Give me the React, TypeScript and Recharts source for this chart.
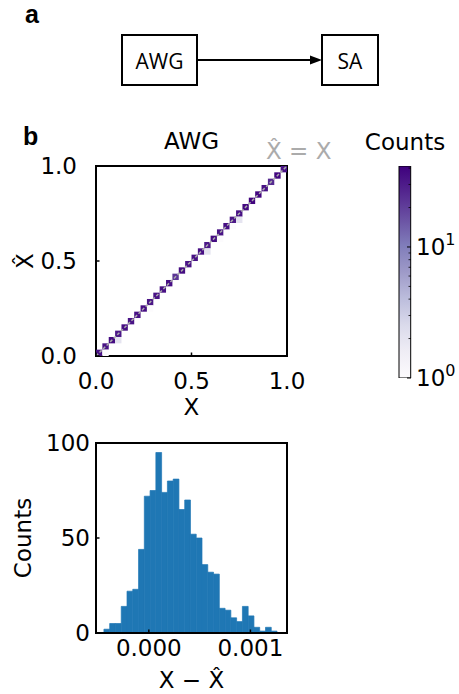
import React from 'react'
import {
  ScatterChart, Scatter, BarChart, Bar,
  XAxis, YAxis, ReferenceArea, Label,
} from 'recharts'

// ---- heatmap (X vs X̂), 30 x 30 bins on [0, 1] ----
const N_BINS = 30
const diagCounts = [34, 33, 36, 31, 35, 33, 34, 35, 32, 33, 34, 35, 22, 36, 33,
  34, 35, 31, 36, 33, 35, 32, 34, 37, 40, 39, 34, 25, 38, 33]
const offCols = [1, 3, 8, 17, 19, 21, 22]
const offRows = [0, 2, 7, 16, 18, 20, 21]
const offCounts = [1, 2, 1, 2, 1, 1, 2]
const heatTicks = [0, 0.5, 1]
const identityLine = [{ x: 0, y: 0 }, { x: 1, y: 1 }]

// ---- colorbar ----
const cbarMax = 41.5
const cbarMajor = [1, 10]
const cbarMinor = [2, 3, 4, 5, 6, 7, 8, 9, 20, 30, 40]

// ---- histogram of X - X̂ ----
const histCounts = [2, 5, 5, 14, 22, 23, 44, 72, 75, 95, 74, 80, 81, 65, 70,
  52, 50, 36, 32, 31, 13, 12, 8, 6, 14, 9, 3, 1, 3, 1]
const histStart = -0.000442
const histBin = 0.0000568
const histDomain = [-0.00052, 0.00136]
const histTicks = [0, 0.001]
const countTicks = [0, 50, 100]

const PURPLES = ['#fcfbfd', '#efedf5', '#dadaeb', '#bcbddc', '#9e9ac8',
  '#807dba', '#6a51a3', '#54278f', '#3f007d']

const hexToRgb = (h: string) => [1, 3, 5].map(i => parseInt(h.slice(i, i + 2), 16))
const purples = (t: number) => {
  const c = Math.min(1, Math.max(0, t)) * (PURPLES.length - 1)
  const i = Math.min(Math.floor(c), PURPLES.length - 2)
  const f = c - i
  const a = hexToRgb(PURPLES[i])
  const b = hexToRgb(PURPLES[i + 1])
  return `rgb(${a.map((v, k) => Math.round(v + (b[k] - v) * f)).join(',')})`
}
const countColor = (c: number) => purples(Math.log10(c) / Math.log10(cbarMax))

const binCenter = (i: number) => (i + 0.5) / N_BINS
const heatCells = [
  ...diagCounts.map((count, i) => ({ x: binCenter(i), y: binCenter(i), count })),
  ...offCols.map((col, k) => ({ x: binCenter(col), y: binCenter(offRows[k]), count: offCounts[k] })),
]
const histData = histCounts.map((count, i) => ({ x: histStart + (i + 0.5) * histBin, count }))
const cbarData = [{ name: 'counts', range: [1, cbarMax] }]

const FONT = "'DejaVu Sans', sans-serif"
const FS = 23
const PLOT_W = 191
const PLOT_H = 190
const CELL = PLOT_W / N_BINS
const HIST_BAR = PLOT_W * histBin / (histDomain[1] - histDomain[0]) - 0.02
const frame = { stroke: '#000', strokeWidth: 2, strokeLinecap: 'square' as const }
const txt = { fontFamily: FONT, fontSize: FS, fill: '#000' }

// inward tick marks (matplotlib direction='in') + labels
const bottomTick = (fmt: (v: number) => string, gap: number) => (p: any) => (
  <g>
    <line x1={p.x} x2={p.x} y1={p.y} y2={p.y - 3.5} stroke="#000" strokeWidth={1.5} />
    <text x={p.x} y={p.y + gap} dy="0.71em" textAnchor="middle" {...txt}>{fmt(p.payload.value)}</text>
  </g>
)
const leftTick = (fmt: (v: number) => string, gap: number) => (p: any) => (
  <g>
    <line x1={p.x} x2={p.x + 3.5} y1={p.y} y2={p.y} stroke="#000" strokeWidth={1.5} />
    <text x={p.x - gap} y={p.y} dominantBaseline="central" textAnchor="end" {...txt}>{fmt(p.payload.value)}</text>
  </g>
)
const topTick = (p: any) => (
  <line x1={p.x} x2={p.x} y1={p.y} y2={p.y + 3.5} stroke="#000" strokeWidth={1.5} />
)
const rightTick = (p: any) => (
  <line x1={p.x} x2={p.x - 3.5} y1={p.y} y2={p.y} stroke="#000" strokeWidth={1.5} />
)
const cbarTick = (p: any) => {
  const v = p.payload.value
  if (!cbarMajor.includes(v)) {
    return <line x1={p.x} x2={p.x - 2.5} y1={p.y} y2={p.y} stroke="#000" strokeWidth={0.8} />
  }
  return (
    <g>
      <line x1={p.x} x2={p.x - 4} y1={p.y} y2={p.y} stroke="#000" strokeWidth={1} />
      <text x={p.x + 5} y={p.y} dominantBaseline="central" {...txt}>
        10<tspan dy={-8} fontSize={16}>{Math.round(Math.log10(v))}</tspan>
      </text>
    </g>
  )
}

const HeatCell = (p: any) => (
  <rect x={p.cx - CELL / 2} y={p.cy - CELL / 2} width={CELL} height={CELL}
    fill={countColor(p.payload.count)} />
)
const NoDot = () => <g />

const Diagram = () => (
  <svg width={459} height={110} style={{ position: 'absolute', left: 0, top: 0 }}>
    <text x={25} y={23} fontFamily="'Liberation Sans', Arial" fontWeight="bold" fontSize={25}>a</text>
    <rect x={122} y={35} width={75} height={50} fill="none" stroke="#000" strokeWidth={2} />
    <text x={159.5} y={69} textAnchor="middle" fontFamily="'Open Sans'" fontSize={21}>AWG</text>
    <line x1={197} y1={60} x2={311} y2={60} stroke="#000" strokeWidth={2} />
    <polygon points="310,55.5 322,60 310,64.5" fill="#000" />
    <rect x={322} y={35} width={56} height={50} fill="none" stroke="#000" strokeWidth={2} />
    <text x={350} y={69} textAnchor="middle" fontFamily="'Open Sans'" fontSize={21}>SA</text>
  </svg>
)

export default function App() {
  const fmt1 = (v: number) => v.toFixed(1)
  return (
    <div style={{ position: 'absolute', left: 0, top: 0, width: 459, height: 694, background: '#fff' }}>
      <Diagram />
      <svg width={60} height={30} style={{ position: 'absolute', left: 0, top: 120 }}>
        <text x={23} y={25} fontFamily="'Liberation Sans', Arial" fontWeight="bold" fontSize={25}>b</text>
      </svg>

      {/* heatmap */}
      <div style={{ position: 'absolute', left: 0, top: 120 }}>
        <ScatterChart width={345} height={300} margin={{ top: 46, right: 58, bottom: 4, left: 36 }}>
          <XAxis dataKey="x" type="number" domain={[0, 1]} ticks={heatTicks} height={60} interval={0}
            tickSize={0} tickMargin={0} tickLine={false} axisLine={frame}
            tick={bottomTick(fmt1, 17)} allowDataOverflow>
            <Label content={(p: any) => {
              const cx = p.viewBox.x + p.viewBox.width / 2
              const top = p.viewBox.y - PLOT_H
              return (
                <g>
                  <text x={cx} y={p.viewBox.y + 59} textAnchor="middle" {...txt}>X</text>
                  <text x={cx} y={top - 17} textAnchor="middle" {...txt}>AWG</text>
                  <text x={p.viewBox.x + p.viewBox.width - 21} y={top - 7}
                    {...txt} fill="#ababab">X̂ = X</text>
                </g>
              )
            }} />
          </XAxis>
          <XAxis xAxisId="top" orientation="top" type="number" domain={[0, 1]} ticks={heatTicks}
            height={0} tickSize={0} tickMargin={0} tickLine={false} axisLine={frame} tick={topTick}
            interval={0} allowDataOverflow />
          <YAxis dataKey="y" type="number" domain={[0, 1]} ticks={heatTicks} width={60} interval={0}
            tickSize={0} tickMargin={0} tickLine={false} axisLine={frame}
            tick={leftTick(fmt1, 19)} allowDataOverflow>
            <Label content={(p: any) => {
              const x = p.viewBox.x - 3
              const y = p.viewBox.y + p.viewBox.height / 2
              return <text x={x} y={y} transform={`rotate(-90 ${x} ${y})`}
                textAnchor="middle" {...txt}>X̂</text>
            }} />
          </YAxis>
          <YAxis yAxisId="right" orientation="right" type="number" domain={[0, 1]} ticks={heatTicks}
            width={0} tickSize={0} tickMargin={0} tickLine={false} axisLine={frame} tick={rightTick}
            interval={0} allowDataOverflow />
          <Scatter data={heatCells} shape={HeatCell} isAnimationActive={false} />
          <Scatter data={identityLine} shape={NoDot} fill="#ababab" isAnimationActive={false}
            line={{ stroke: '#ababab', strokeWidth: 1.5, strokeDasharray: '3 2' }} />
          <ReferenceArea x1={0} x2={1} y1={0} y2={1} fill="none" stroke="#000" strokeWidth={2} />
        </ScatterChart>
      </div>

      {/* colorbar */}
      <div style={{ position: 'absolute', left: 350, top: 120 }}>
        <BarChart width={109} height={280} data={cbarData} barCategoryGap={0}
          margin={{ top: 46, right: 0, bottom: 22, left: 48 }}>
          <defs>
            <linearGradient id="cbar" x1="0" y1="1" x2="0" y2="0">
              {PURPLES.map((c, i) => (
                <stop key={c} offset={i / (PURPLES.length - 1)} stopColor={c} />
              ))}
            </linearGradient>
          </defs>
          <XAxis dataKey="name" type="category" hide />
          <YAxis orientation="right" type="number" scale="log" domain={[1, cbarMax]}
            ticks={[...cbarMajor, ...cbarMinor]} width={48} allowDataOverflow interval={0}
            tickSize={0} tickMargin={0} tickLine={false} axisLine={false} tick={cbarTick}>
            <Label content={(p: any) => (
              <text x={p.viewBox.x - 6} y={p.viewBox.y - 16}
                textAnchor="middle" {...txt}>Counts</text>
            )} />
          </YAxis>
          <Bar dataKey="range" fill="url(#cbar)" stroke="#000" strokeWidth={1}
            barSize={13} isAnimationActive={false} />
        </BarChart>
      </div>

      {/* histogram */}
      <div style={{ position: 'absolute', left: 0, top: 400 }}>
        <BarChart width={300} height={294} data={histData}
          margin={{ top: 43, right: 13, bottom: 5, left: 36 }}>
          <XAxis dataKey="x" type="number" domain={histDomain} ticks={histTicks} height={56} interval={0}
            tickSize={0} tickMargin={0} tickLine={false} axisLine={frame} allowDataOverflow
            tick={bottomTick((v: number) => v.toFixed(3), 7)}>
            <Label content={(p: any) => (
              <text x={p.viewBox.x + p.viewBox.width / 2} y={p.viewBox.y + 55}
                textAnchor="middle" {...txt}>X − X̂</text>
            )} />
          </XAxis>
          <XAxis xAxisId="top" orientation="top" type="number" domain={histDomain} ticks={histTicks}
            height={0} tickSize={0} tickMargin={0} tickLine={false} axisLine={frame} tick={topTick}
            interval={0} allowDataOverflow />
          <YAxis type="number" domain={[0, 100]} ticks={countTicks} width={60} interval={0}
            tickSize={0} tickMargin={0} tickLine={false} axisLine={frame} allowDataOverflow
            tick={leftTick((v: number) => String(v), 6)}>
            <Label content={(p: any) => {
              const x = p.viewBox.x - 5
              const y = p.viewBox.y + p.viewBox.height / 2
              return <text x={x} y={y} transform={`rotate(-90 ${x} ${y})`}
                textAnchor="middle" {...txt}>Counts</text>
            }} />
          </YAxis>
          <YAxis yAxisId="right" orientation="right" type="number" domain={[0, 100]} ticks={countTicks}
            width={0} tickSize={0} tickMargin={0} tickLine={false} axisLine={frame} tick={rightTick}
            interval={0} allowDataOverflow />
          <Bar dataKey="count" fill="#1f77b4" stroke="#1f77b4" strokeWidth={0.7}
            barSize={HIST_BAR} isAnimationActive={false} />
          <ReferenceArea x1={histDomain[0]} x2={histDomain[1]} y1={0} y2={100}
            fill="none" stroke="#000" strokeWidth={2} />
        </BarChart>
      </div>
    </div>
  )
}
